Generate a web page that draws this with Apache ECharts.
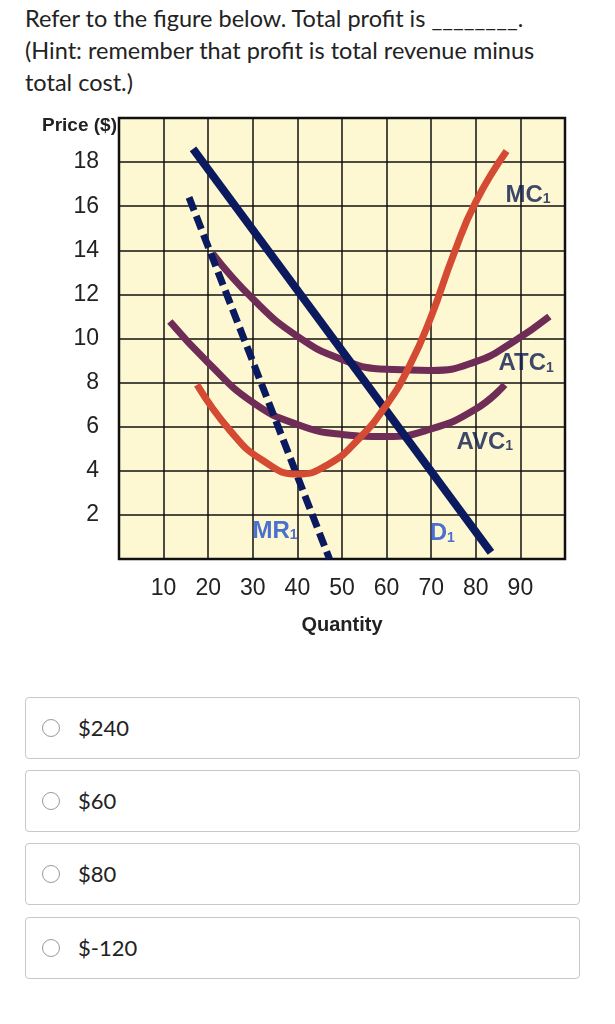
<!DOCTYPE html>
<html><head><meta charset="utf-8">
<script src="https://cdn.jsdelivr.net/npm/echarts@6/dist/echarts.min.js"></script>
<style>
body{margin:0;background:#fff;font-family:Lato,"Noto Sans",sans-serif;color:#222;}
#q{position:absolute;left:25px;top:2px;width:590px;font-size:23.5px;line-height:32px;}
#chart{position:absolute;left:0;top:100px;width:615px;height:540px;}
.opt{position:absolute;left:25px;width:555px;height:62px;border:1px solid #c8c8c8;border-radius:4px;box-sizing:border-box;font-size:22px;}
.opt span.r{position:absolute;left:16px;top:21px;width:18px;height:18px;border:1px solid #999;border-radius:50%;box-sizing:border-box;}
.opt span.t{position:absolute;left:52px;top:16px;}
</style></head><body>
<div id="q">Refer to the figure below. Total profit is ________.<br>(Hint: remember that profit is total revenue minus<br>total cost.)</div>
<div id="chart"></div>
<div class="opt" style="top:697px"><span class="r"></span><span class="t">$240</span></div>
<div class="opt" style="top:770px"><span class="r"></span><span class="t">$60</span></div>
<div class="opt" style="top:843px"><span class="r"></span><span class="t">$80</span></div>
<div class="opt" style="top:917px"><span class="r"></span><span class="t">$-120</span></div>
<script>
const xTicks=[10,20,30,40,50,60,70,80,90];
const yTicks=[2,4,6,8,10,12,14,16,18];
const demand=[[16.6,18.6],[83.4,0.3]];
const mr=[[15.7,16.4],[47.2,0]];
const mc=[[17.5,7.9],[25,5.8],[32,4.5],[40,3.85],[47,4.3],[54,5.5],[60,7.0],[65,8.7],[70,11.0],[75,13.8],[80,16.2],[86.9,18.5]];
const atc=[[21,13.85],[30,11.8],[40,10.1],[50,9.05],[60,8.6],[70,8.55],[80,8.95],[88,9.8],[96.5,11.0]];
const avc=[[11.4,10.77],[20,8.9],[30,7.1],[40,6.1],[50,5.65],[60,5.55],[70,5.9],[80,6.8],[86.5,7.9]];
const curveLabels=[
 {name:'MC',x:91.7,y:16.5,c:'#0d1b4f'},
 {name:'ATC',x:91.3,y:8.85,c:'#0d1b4f'},
 {name:'AVC',x:82,y:5.3,c:'#0d1b4f'},
 {name:'MR',x:35,y:1.25,c:'#1d4ed0'},
 {name:'D',x:72.5,y:1.15,c:'#1d4ed0'}
];
const ch=echarts.init(document.getElementById('chart'));
const ff='"Liberation Sans",Arial,sans-serif';
ch.setOption({
 animation:false,
 grid:{left:119,top:18,width:446,height:447,backgroundColor:'#fdf8d2',show:true,borderColor:'#111',borderWidth:2.5},
 xAxis:{type:'value',min:0,max:100,interval:10,
  axisLine:{show:false},axisTick:{show:false},
  splitLine:{lineStyle:{color:'#111',width:1.5}},
  axisLabel:{margin:18,fontSize:23,color:'#222',fontFamily:ff,formatter:v=>xTicks.includes(v)?String(v):''},
  name:'Quantity',nameLocation:'middle',nameGap:56,nameTextStyle:{fontSize:20,fontWeight:'bold',color:'#222',fontFamily:ff}},
 yAxis:{type:'value',min:0,max:20,interval:2,
  axisLine:{show:false},axisTick:{show:false},
  splitLine:{lineStyle:{color:'#111',width:1.5}},
  axisLabel:{margin:20,fontSize:23,color:'#222',fontFamily:ff,formatter:v=>yTicks.includes(v)?String(v):''},
  name:'Price ($)',nameLocation:'end',nameGap:-8,nameTextStyle:{fontSize:19,fontWeight:'bold',color:'#222',fontFamily:ff,align:'right',padding:[0,2,0,0],verticalAlign:'middle'}},
 series:[
  {type:'line',data:demand,symbol:'none',lineStyle:{color:'#0b1a5e',width:8},z:3},
  {type:'line',data:mr,symbol:'none',lineStyle:{color:'#0b1a5e',width:7,type:[14,6]},z:3},
  {type:'line',data:atc,smooth:0.5,symbol:'none',lineStyle:{color:'#6e2c57',width:7},z:2},
  {type:'line',data:avc,smooth:0.5,symbol:'none',lineStyle:{color:'#6e2c57',width:7},z:2},
  {type:'line',data:mc,smooth:0.5,symbol:'none',lineStyle:{color:'#d44a33',width:7},z:4},
  {type:'scatter',symbolSize:0,z:5,data:curveLabels.map(l=>({value:[l.x,l.y],label:{show:true,position:'inside',
    formatter:'{a|'+l.name+'}{b|1}',rich:{a:{fontSize:24,fontWeight:'bold',color:l.c,fontFamily:ff,letterSpacing:-2},b:{fontSize:14,fontWeight:'bold',color:l.c,fontFamily:ff,padding:[8,0,0,0]}}}}))}
 ]
});
</script>
</body></html>
